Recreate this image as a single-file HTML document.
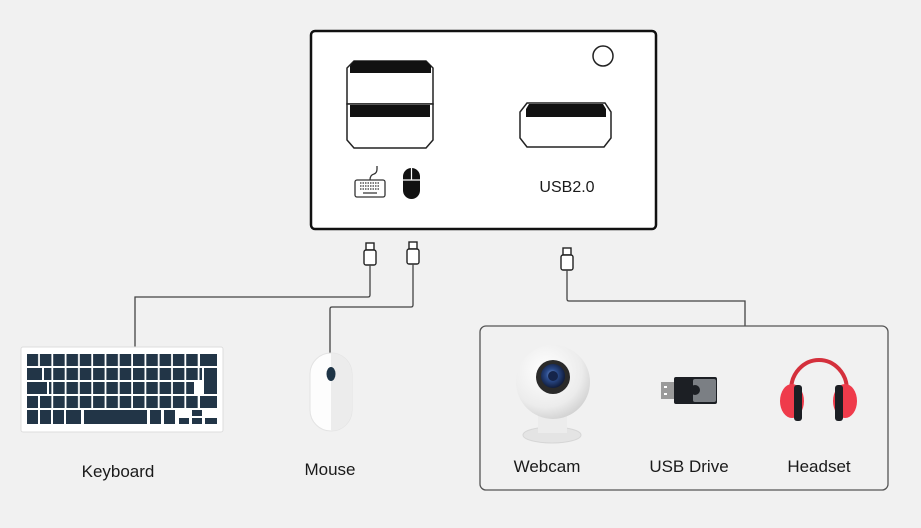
<!DOCTYPE html>
<html><head><meta charset="utf-8"><style>
html,body{margin:0;padding:0;background:#f1f1f1;}
svg{display:block;}
text{font-family:"Liberation Sans",Arial,sans-serif;fill:#1a1a1a;}
</style></head><body>
<svg width="921" height="528" viewBox="0 0 921 528" xmlns="http://www.w3.org/2000/svg">
<defs>
<pattern id="k" x="0" y="0" width="13.3" height="12" patternUnits="userSpaceOnUse">
<rect x="0" y="0" width="11.5" height="12" fill="#223547"/>
</pattern>
<radialGradient id="ball" cx="0.4" cy="0.35" r="0.7">
<stop offset="0" stop-color="#ffffff"/><stop offset="0.7" stop-color="#ececec"/><stop offset="1" stop-color="#cfcfcf"/>
</radialGradient>
<radialGradient id="lens" cx="0.45" cy="0.45" r="0.6">
<stop offset="0" stop-color="#7a9ad0"/><stop offset="0.4" stop-color="#2a4a8a"/><stop offset="1" stop-color="#0d1630"/>
</radialGradient>
</defs>
<rect width="921" height="528" fill="#f1f1f1"/>

<!-- main box -->
<rect x="311" y="31" width="345" height="198" rx="4" fill="#fff" stroke="#111" stroke-width="2.5"/>
<circle cx="603" cy="56" r="10" fill="#fff" stroke="#222" stroke-width="1.5"/>
<!-- double port -->
<path d="M354 61 H426 L433 68 V104 H347 V68 Z" fill="#fff" stroke="#222" stroke-width="1.5"/>
<path d="M354 61 H426 L431 66 V73 H350 V66 Z" fill="#111"/>
<path d="M347 104 H433 V140 L426 148 H354 L347 140 Z" fill="#fff" stroke="#222" stroke-width="1.5"/>
<rect x="350" y="105" width="80" height="12" fill="#111"/>
<!-- single port -->
<path d="M527 103 H605 L611 112 V138 L604 147 H527 L520 138 V112 Z" fill="#fff" stroke="#222" stroke-width="1.5"/>
<path d="M529 104 H603 L606 109 V117 H526 V109 Z" fill="#111"/>
<text x="567" y="192" font-size="16" text-anchor="middle">USB2.0</text>
<!-- small keyboard icon -->
<rect x="355" y="180" width="30" height="17" rx="2" fill="#fff" stroke="#333" stroke-width="1.3"/>
<path d="M360 183h20M360 186h20M360 189h20" stroke="#555" stroke-width="1.5" stroke-dasharray="1.5 1"/>
<path d="M363 193h14" stroke="#555" stroke-width="1.5"/>
<path d="M370 180 q0-5 4-6 q3-1 3-5 v-3" fill="none" stroke="#333" stroke-width="1.3"/>
<!-- small mouse icon -->
<rect x="403" y="168" width="17" height="31" rx="8.5" fill="#111"/>
<path d="M403 180h17M411.5 168v12" stroke="#fff" stroke-width="1.2"/>

<!-- plugs -->
<g fill="#fff" stroke="#222" stroke-width="1.4">
<rect x="366" y="243" width="8" height="7"/><rect x="364" y="250" width="12" height="15" rx="2"/>
<rect x="409" y="242" width="8" height="7"/><rect x="407" y="249" width="12" height="15" rx="2"/>
<rect x="563" y="248" width="8" height="7"/><rect x="561" y="255" width="12" height="15" rx="2"/>
</g>
<!-- connectors -->
<g fill="none" stroke="#444" stroke-width="1.3">
<path d="M370 265 V295 Q370 297 368 297 H135 V350"/>
<path d="M413 264 V305 Q413 307 411 307 H332 Q330 307 330 309 V353"/>
<path d="M567 270 V299 Q567 301 569 301 H745 V326"/>
</g>

<!-- keyboard -->
<rect x="21" y="347" width="202" height="85" rx="2" fill="#fff" stroke="#ddd" stroke-width="1"/>
<g fill="url(#k)">
<rect x="27" y="354" width="172" height="12"/>
<rect x="44" y="368" width="158" height="12"/>
<rect x="49" y="382" width="145" height="12"/>
<rect x="40" y="396" width="158" height="12"/>
</g>
<g fill="#223547">
<rect x="200" y="354" width="17" height="12"/>
<rect x="27" y="368" width="15" height="12"/>
<rect x="204" y="368" width="13" height="26"/>
<rect x="27" y="382" width="20" height="12"/>
<rect x="27" y="396" width="11" height="12"/>
<rect x="200" y="396" width="17" height="12"/>
<rect x="27" y="410" width="11" height="14"/><rect x="40" y="410" width="11" height="14"/><rect x="53" y="410" width="11" height="14"/><rect x="66" y="410" width="15" height="14"/>
<rect x="84" y="410" width="63" height="14"/>
<rect x="150" y="410" width="11" height="14"/><rect x="164" y="410" width="11" height="14"/>
<rect x="179" y="418" width="10" height="6"/><rect x="192" y="410" width="10" height="6"/><rect x="192" y="418" width="10" height="6"/><rect x="205" y="418" width="12" height="6"/>
</g>
<text x="118" y="477" font-size="17" text-anchor="middle">Keyboard</text>

<!-- mouse -->
<rect x="310" y="353" width="42" height="78" rx="21" fill="#fdfdfd" stroke="#e3e3e3"/>
<path d="M331 353 a21 21 0 0 1 21 21 v36 a21 21 0 0 1 -21 21 Z" fill="#ececec"/>
<ellipse cx="331" cy="374" rx="4.5" ry="7" fill="#1e3446"/>
<text x="330" y="475" font-size="17" text-anchor="middle">Mouse</text>

<!-- right box -->
<rect x="480" y="326" width="408" height="164" rx="6" fill="#f1f1f1" stroke="#555" stroke-width="1.3"/>
<!-- webcam -->
<ellipse cx="552" cy="435" rx="29" ry="8" fill="#e4e4e4" stroke="#d6d6d6"/>
<rect x="538" y="408" width="29" height="25" fill="#ececec"/>
<circle cx="553" cy="382" r="37" fill="url(#ball)"/>
<circle cx="553" cy="377" r="17" fill="#2a2a2a"/>
<circle cx="553" cy="376" r="12" fill="url(#lens)"/>
<circle cx="553" cy="376" r="5" fill="#15244a"/>
<text x="547" y="472" font-size="17" text-anchor="middle">Webcam</text>
<!-- usb drive -->
<rect x="661" y="382" width="14" height="17" fill="#9a9a9a"/>
<rect x="664" y="386" width="3" height="2" fill="#fff"/><rect x="664" y="393" width="3" height="2" fill="#fff"/>
<rect x="674" y="377" width="43" height="27" rx="2" fill="#1c1f24"/>
<rect x="693" y="379" width="23" height="23" rx="2" fill="#7b7f84"/>
<circle cx="695" cy="390" r="5" fill="#1c1f24"/>
<text x="689" y="472" font-size="17" text-anchor="middle">USB Drive</text>
<!-- headset -->
<path d="M791 398 V390 A28 30 0 0 1 847 390 V398" fill="none" stroke="#d4303c" stroke-width="4"/>
<ellipse cx="792" cy="401" rx="12" ry="17" fill="#ef3b4b"/>
<ellipse cx="845" cy="401" rx="12" ry="17" fill="#ef3b4b"/>
<rect x="794" y="385" width="8" height="36" rx="3" fill="#1c1f24"/>
<rect x="835" y="385" width="8" height="36" rx="3" fill="#1c1f24"/>
<text x="819" y="472" font-size="17" text-anchor="middle">Headset</text>
</svg>
</body></html>
